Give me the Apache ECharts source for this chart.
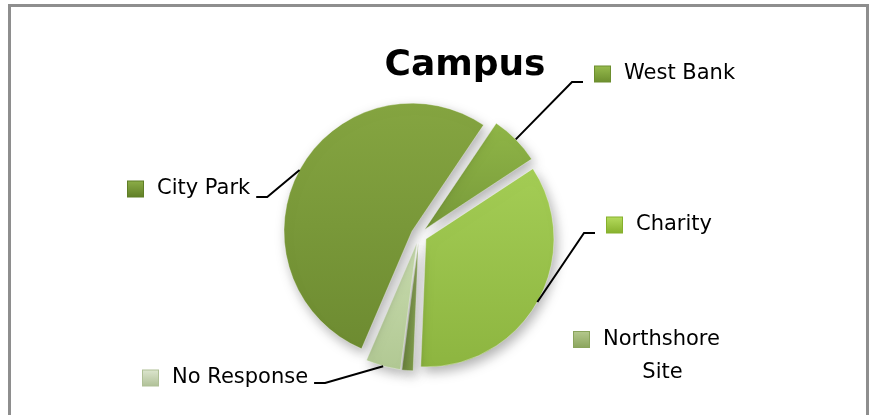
<!DOCTYPE html>
<html><head><meta charset="utf-8">
<script src="https://cdn.jsdelivr.net/npm/echarts@6/dist/echarts.min.js"></script>
<style>html,body{margin:0;padding:0;background:#fff;overflow:hidden}#c{width:872px;height:415px}</style>
</head><body><div id="c"></div>
<script>
// ---- data ----
const titleText = 'Campus';
const categories = ['West Bank', 'Charity', 'Northshore Site', 'No Response', 'City Park'];
const values = [6.3, 34.9, 1.4, 4.4, 53.0];

// ---- styles / layout (not data) ----
const sliceTop    = ['#90B647', '#A4CD55', '#9CB866', '#CADDB0', '#85A541'];
const sliceBottom = ['#77993A', '#8DB540', '#7C9A48', '#B1C893', '#6D8B31'];
const markerTop   = ['#98BC4E', '#B6DC5E', '#B5C98E', '#DDE6CF', '#8DAE48'];
const markerBot   = ['#6C8E2E', '#86B02C', '#8AA45C', '#AFC096', '#5F7E26'];
const labelSpots = [
  { x: 595, y: 74,  line: 'left',  lineY: 82 },
  { x: 607, y: 225, line: 'left',  lineY: 233 },
  { x: 574, y: 340, line: null },
  { x: 143, y: 378, line: 'right', lineY: 383 },
  { x: 128, y: 189, line: 'right', lineY: 197 }
];
const CX = 419, CY = 235, R = 128, OFF = 8, START = 56;
const labelFont = 'DejaVu Sans';
const labelSize = 21;

const ctx = document.createElement('canvas').getContext('2d');
ctx.font = labelSize + 'px "' + labelFont + '"';
const nsWidth = ctx.measureText('Northshore').width;

function grad(a, b) {
  return { type: 'linear', x: 0, y: 0, x2: 0, y2: 1,
    colorStops: [{ offset: 0, color: a }, { offset: 1, color: b }] };
}

const rich = { s: { width: 14 }, s2: { width: 30 },
  t: { fontFamily: labelFont, fontSize: labelSize, color: '#000', lineHeight: 33 },
  c: { fontFamily: labelFont, fontSize: labelSize, color: '#000', lineHeight: 33, width: nsWidth, align: 'center' } };
categories.forEach((c, i) => {
  rich['m' + i] = { width: 15, height: 15, backgroundColor: grad(markerTop[i], markerBot[i]),
    borderColor: markerBot[i], borderWidth: 1 };
});

// visible, exploded slices
const sliceData = categories.map((name, i) => ({
  name: name, value: values[i], selected: true,
  itemStyle: { color: grad(sliceTop[i], sliceBottom[i]) }
}));
// same values, transparent, only carries the data labels and leader lines
const labelData = categories.map((name, i) => ({
  name: name, value: values[i],
  labelLine: { show: labelSpots[i].line !== null }
}));

const chart = echarts.init(document.getElementById('c'), null, { renderer: 'canvas' });
chart.setOption({
  animation: false,
  backgroundColor: '#fff',
  title: { text: titleText, left: 460, top: 43, textAlign: 'center',
    textStyle: { fontFamily: 'DejaVu Sans', fontWeight: 'bold', fontSize: 36, color: '#000' } },
  graphic: [{ type: 'rect', silent: true, z: -1,
    shape: { x: 9.5, y: 5.5, width: 858, height: 430 },
    style: { fill: 'none', stroke: '#8E8E8E', lineWidth: 3 } }],
  series: [{
    type: 'pie',
    center: [CX, CY],
    radius: R,
    startAngle: START,
    clockwise: true,
    selectedMode: 'multiple',
    selectedOffset: OFF,
    data: sliceData,
    itemStyle: { borderColor: 'rgba(255,255,255,0.35)', borderWidth: 1,
      shadowBlur: 12, shadowColor: 'rgba(0,0,0,0.3)', shadowOffsetX: 3, shadowOffsetY: 5 },
    emphasis: { disabled: true },
    label: { show: false },
    labelLine: { show: false }
  }, {
    type: 'pie',
    silent: true,
    z: 3,
    center: [CX, CY],
    radius: R + OFF,
    startAngle: START,
    clockwise: true,
    selectedMode: false,
    data: labelData,
    itemStyle: { color: 'rgba(0,0,0,0)', borderWidth: 0 },
    emphasis: { disabled: true },
    label: {
      show: true, position: 'outside',
      formatter: function (p) {
        const i = p.dataIndex;
        if (p.name === 'Northshore Site') return '{m' + i + '|}{s|}{t|Northshore}\n{s2|}{c|Site}';
        return '{m' + i + '|}{s|}{t|' + p.name + '}';
      },
      rich: rich
    },
    labelLine: { show: true, smooth: false, lineStyle: { color: '#000', width: 2 } },
    labelLayout: function (p) {
      const sp = labelSpots[p.dataIndex];
      const res = { x: sp.x, y: sp.y, align: 'left', verticalAlign: sp.line ? 'middle' : 'top' };
      if (!sp.line) { res.y = sp.y - 17; }
      if (sp.line && p.labelLinePoints) {
        const st = p.labelLinePoints[0];
        let end, bend;
        if (sp.line === 'left') { end = [sp.x - 12, sp.lineY]; bend = [end[0] - 11, end[1]]; }
        else { end = [sp.x + p.labelRect.width + 5, sp.lineY]; bend = [end[0] + 11, end[1]]; }
        res.labelLinePoints = [st, bend, end];
      }
      return res;
    }
  }]
});
</script>
</body></html>
